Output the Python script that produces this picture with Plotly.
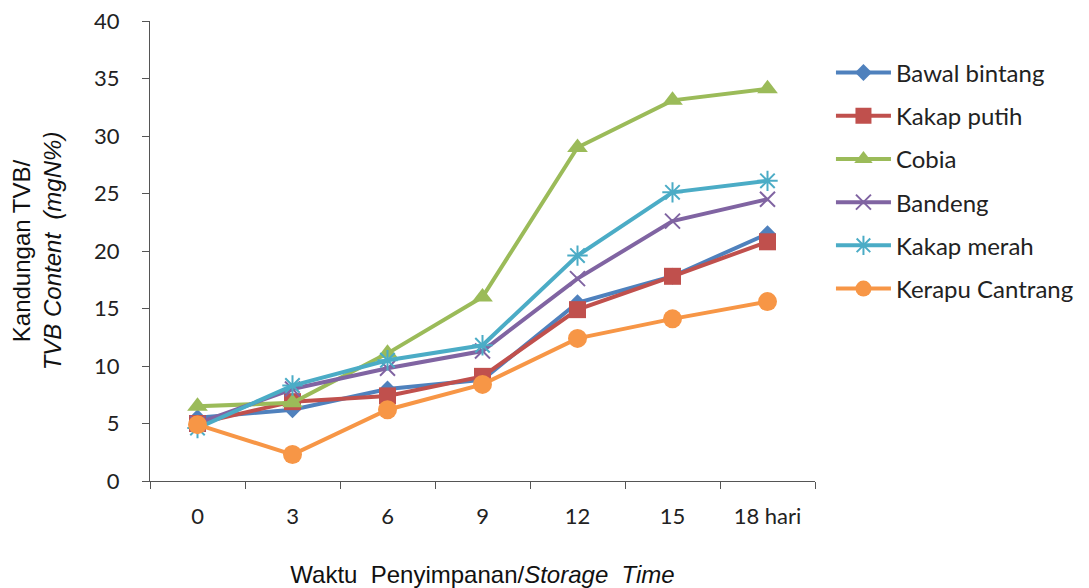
import plotly.graph_objects as go

# Storage days (category labels on the x axis)
days = ["0", "3", "6", "9", "12", "15", "18 hari"]

# TVB content (mgN%) per fish species
bawal_bintang = [5.5, 6.2, 8.0, 8.8, 15.5, 17.8, 21.5]
kakap_putih = [5.0, 6.9, 7.4, 9.1, 14.9, 17.8, 20.8]
cobia = [6.5, 6.8, 11.1, 16.0, 29.0, 33.1, 34.1]
bandeng = [5.0, 8.0, 9.8, 11.3, 17.6, 22.6, 24.5]
kakap_merah = [4.6, 8.3, 10.5, 11.8, 19.6, 25.1, 26.1]
kerapu_cantrang = [4.9, 2.3, 6.2, 8.4, 12.4, 14.1, 15.6]

series = [
    ("Bawal bintang", bawal_bintang, "#4F81BD", "diamond", 13),
    ("Kakap putih", kakap_putih, "#C0504D", "square", 17),
    ("Cobia", cobia, "#9BBB59", "triangle-up", 18),
    ("Bandeng", bandeng, "#8064A2", "x-thin-open", 15),
    ("Kakap merah", kakap_merah, "#4BACC6", "asterisk-open", 17),
    ("Kerapu Cantrang", kerapu_cantrang, "#F79646", "circle", 19),
]

fig = go.Figure()
for name, vals, color, symbol, size in series:
    open_sym = symbol.endswith("open")
    fig.add_trace(go.Scatter(
        x=days, y=vals, name=name, mode="lines+markers",
        legendgroup=name,
        line=dict(color=color, width=4),
        marker=dict(symbol=symbol, size=size, color=color,
                    line=dict(color=color, width=2 if open_sym else 0)),
    ))

tick_font = dict(family="Lato, 'Open Sans', sans-serif", size=22, color="#222222")
title_font = dict(family="'Liberation Sans', Arial, sans-serif", size=24, color="#111111")
fig.update_layout(
    width=1089, height=588,
    margin=dict(l=150, r=274, t=21, b=107, autoexpand=False),
    paper_bgcolor="white", plot_bgcolor="white",
    showlegend=True,
    legend=dict(
        x=1.024, y=0.936, xanchor="left", yanchor="top",
        font=dict(family="Lato, 'Open Sans', sans-serif", size=24, color="#222222"),
        tracegroupgap=9, itemwidth=55,
        bgcolor="rgba(0,0,0,0)",
    ),
    xaxis=dict(
        type="category", range=[-0.5, 6.5], automargin=False,
        tickson="boundaries", ticks="outside", ticklen=7, tickcolor="#555555",
        ticklabelstandoff=16,
        showline=True, linecolor="#555555", linewidth=1,
        showgrid=False, zeroline=False,
        tickfont=tick_font,
        title=dict(text="Waktu  Penyimpanan/<i>Storage  Time</i>",
                   font=title_font, standoff=40),
    ),
    yaxis=dict(
        range=[0, 40], dtick=5, tick0=0, automargin=False,
        ticks="outside", ticklen=7, tickcolor="#555555",
        ticklabelstandoff=18,
        showline=True, linecolor="#555555", linewidth=1,
        showgrid=False, zeroline=False,
        tickfont=tick_font,
        title=dict(text="Kandungan TVB/<br><i>TVB Content  (mgN%)</i>",
                   font=title_font, standoff=25),
    ),
)

fig.write_html("out.html")
